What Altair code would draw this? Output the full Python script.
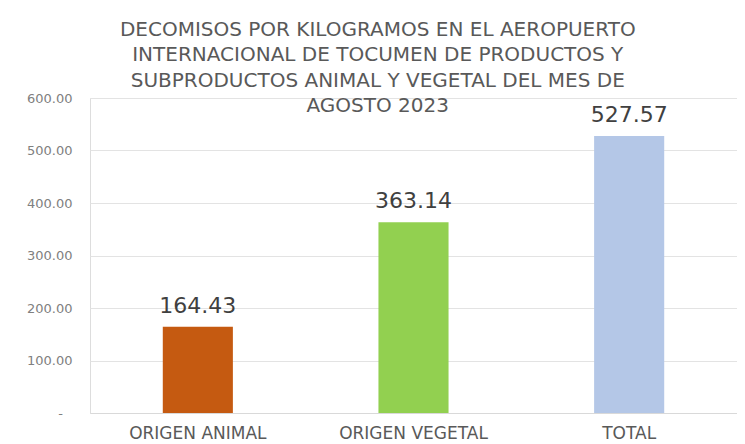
import altair as alt
import pandas as pd

categories = ["ORIGEN ANIMAL", "ORIGEN VEGETAL", "TOTAL"]
values = [164.43, 363.14, 527.57]
colors = ["#C55A11", "#92D050", "#B4C7E7"]
y_ticks = [0, 100, 200, 300, 400, 500, 600]
title_lines = [
    "DECOMISOS POR KILOGRAMOS EN EL AEROPUERTO",
    "INTERNACIONAL DE TOCUMEN DE PRODUCTOS Y",
    "SUBPRODUCTOS ANIMAL Y VEGETAL DEL MES DE",
    "AGOSTO 2023",
]

df = pd.DataFrame({"cat": categories, "val": values, "color": colors})

FONT = "DejaVu Sans"

base = alt.Chart(df).encode(
    x=alt.X(
        "cat:N",
        sort=categories,
        title=None,
        scale=alt.Scale(paddingInner=0.675, paddingOuter=0.3375),
        axis=alt.Axis(
            labelAngle=0,
            labelFontSize=17,
            labelColor="#595959",
            labelFont=FONT,
            labelPadding=12,
            ticks=False,
            domain=True,
            domainColor="#d9d9d9",
            grid=False,
        ),
    ),
    y=alt.Y(
        "val:Q",
        title=None,
        scale=alt.Scale(domain=[0, 600], nice=False),
        axis=alt.Axis(
            values=y_ticks,
            labelExpr="datum.value == 0 ? '-\\u2800' : format(datum.value, '.2f')",
            labelFontSize=13,
            labelColor="#808080",
            labelFont=FONT,
            labelPadding=18,
            ticks=False,
            domain=False,
            gridColor="#e3e3e3",
            gridWidth=1,
        ),
    ),
)

bars = base.mark_bar().encode(color=alt.Color("color:N", scale=None))
labels = base.mark_text(
    dy=-9, fontSize=22, color="#404040", font=FONT, baseline="bottom"
).encode(text=alt.Text("val:Q", format=".2f"))

chart = (
    (bars + labels)
    .properties(
        width=647,
        height=315,
        title=alt.TitleParams(
            text=title_lines,
            fontSize=20,
            font=FONT,
            fontWeight="normal",
            color="#595959",
            lineHeight=25.5,
            anchor="middle",
            frame="bounds",
            offset=-24,
            dx=-4,
        ),
        padding={"left": 82, "top": 90, "right": 0, "bottom": 30},
        autosize=alt.AutoSizeParams(type="none"),
    )
    .configure_view(stroke=None)
    .configure(background="white")
)

chart.save("out.html", embed_options={"renderer": "svg", "actions": False})
